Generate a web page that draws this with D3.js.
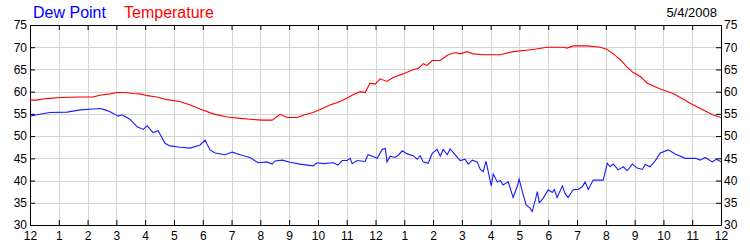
<!DOCTYPE html>
<html>
<head>
<meta charset="utf-8">
<script src="https://cdn.jsdelivr.net/npm/d3@7"></script>
<style>
  body { margin: 0; background: #fff; }
  svg { display: block; }
  text { font-family: Arial, "Liberation Sans", sans-serif; }
</style>
</head>
<body>
<div id="chart"></div>
<script>
// hour of day (0-24) and reading
var tempHours = [0, 0.24, 0.49, 0.69, 1.04, 1.74, 2.19, 2.43, 2.78, 3.02, 3.3, 3.58, 3.82, 4.07, 4.41, 4.76,
    5.21, 5.56, 5.91, 6.36, 6.85, 7.3, 7.64, 8.06, 8.41, 8.69, 8.93, 9.28, 9.49, 9.83, 10.08, 10.42, 10.77,
    11.01, 11.22, 11.47, 11.64, 11.81, 11.99, 12.16, 12.4, 12.61, 12.96, 13.31, 13.48, 13.66, 13.79, 13.97,
    14.25, 14.49, 14.77, 14.94, 15.18, 15.39, 15.74, 16.09, 16.33, 16.78, 17.48, 17.96, 18.52, 18.66, 18.87,
    19.35, 19.81, 20.05, 20.26, 20.5, 20.74, 20.95, 21.2, 21.44, 21.89, 22.34, 22.69, 23.04, 23.38, 23.73, 24];
var tempValues = [58.1, 58.1, 58.4, 58.5, 58.7, 58.8, 58.8, 59.2, 59.5, 59.8, 59.8, 59.6, 59.5, 59.1, 58.8, 58.2,
    57.8, 57.0, 56.1, 55.0, 54.3, 54.0, 53.8, 53.6, 53.6, 54.9, 54.2, 54.2, 54.7, 55.3, 56.0, 57.0, 57.8,
    58.6, 59.3, 60.0, 59.8, 61.9, 61.7, 62.9, 62.3, 63.2, 64.0, 65.0, 65.2, 66.3, 65.9, 67.0,
    67.0, 68.2, 68.8, 68.5, 69.0, 68.5, 68.3, 68.3, 68.3, 69.0, 69.5, 70.0, 70.0, 69.8, 70.3,
    70.3, 70.0, 69.5, 68.5, 67.2, 65.5, 64.3, 63.4, 61.9, 60.6, 59.6, 58.3, 57.0, 55.9, 54.75, 54.2];

var dewHours = [0, 0.24, 0.69, 1.29, 1.74, 2.19, 2.43, 2.61, 2.78, 3.06, 3.2, 3.47, 3.72, 3.93, 4.07, 4.27, 4.45,
    4.69, 4.86, 5.21, 5.56, 5.91, 6.08, 6.25, 6.43, 6.78, 7.02, 7.3, 7.64, 7.92, 8.23, 8.41, 8.51, 8.76, 9.03,
    9.38, 9.83, 9.97, 10.18, 10.53, 10.7, 10.84, 11.01, 11.12, 11.19, 11.36, 11.64, 11.74, 11.92, 12.06, 12.23,
    12.34, 12.4, 12.51, 12.68, 12.79, 12.93, 13.1, 13.31, 13.45, 13.55, 13.66, 13.83, 13.97, 14.14, 14.25,
    14.35, 14.49, 14.59, 14.77, 14.94, 15.11, 15.22, 15.36, 15.53, 15.64, 15.74, 15.84, 16.02, 16.09, 16.23,
    16.33, 16.43, 16.61, 16.78, 16.92, 16.99, 17.13, 17.23, 17.37, 17.44, 17.55, 17.62, 17.69, 17.82, 18.0,
    18.14, 18.21, 18.31, 18.49, 18.59, 18.69, 18.87, 19.04, 19.18, 19.28, 19.39, 19.56, 19.91, 20.05, 20.15,
    20.26, 20.43, 20.61, 20.74, 20.92, 21.09, 21.27, 21.37, 21.54, 21.72, 21.89, 22.17, 22.41, 22.76, 23.11,
    23.28, 23.45, 23.7, 23.84, 24];
var dewValues = [54.5, 54.8, 55.3, 55.4, 55.9, 56.1, 56.2, 55.9, 55.5, 54.5, 54.8, 53.8, 52.1, 51.5, 52.3, 50.8, 51.2,
    48.4, 47.8, 47.5, 47.3, 48.0, 49.1, 46.9, 46.2, 45.8, 46.4, 45.8, 45.2, 44.0, 44.2, 43.7, 44.4, 44.6, 44.1,
    43.7, 43.3, 44.0, 43.8, 44.0, 43.5, 44.5, 44.5, 45.0, 43.8, 44.5, 44.3, 45.8, 45.4, 45.0, 47.0,
    47.2, 44.2, 45.5, 45.2, 45.7, 46.7, 46.0, 45.6, 44.8, 45.6, 44.2, 43.9, 46.1, 47.0, 45.5,
    47.0, 45.8, 47.1, 45.8, 44.5, 44.8, 43.7, 44.6, 44.2, 42.5, 42.0, 44.3, 38.8, 41.5, 39.7,
    40.0, 39.0, 39.7, 36.2, 38.6, 40.3, 36.8, 34.5, 33.8, 33.0, 35.6, 37.5, 35.0, 36.0, 37.9,
    37.3, 38.0, 36.2, 38.8, 37.0, 36.2, 38.0, 38.0, 38.6, 39.7, 38.0, 40.1, 40.1, 43.9, 43.1,
    43.7, 42.4, 43.1, 42.2, 43.7, 42.8, 42.5, 43.6, 43.1, 44.5, 46.2, 46.9, 46.0, 45.0, 45.0,
    44.6, 45.2, 44.2, 44.8, 44.2];

var hourLabels = ["12", "1", "2", "3", "4", "5", "6", "7", "8", "9", "10", "11",
    "12", "1", "2", "3", "4", "5", "6", "7", "8", "9", "10", "11", "12"];
var yTicks = [30, 35, 40, 45, 50, 55, 60, 65, 70, 75];
var dateLabel = "5/4/2008";

var W = 750, H = 250;
var plotLeft = 30, plotRight = 721, plotTop = 25, plotBottom = 225;

var svg = d3.select("#chart").append("svg")
    .attr("width", W)
    .attr("height", H);

var x = d3.scaleLinear().domain([0, 24]).range([plotLeft, plotRight]);
var y = d3.scaleLinear().domain([30, 75]).range([plotBottom, plotTop]);

// grid
svg.append("g").selectAll("line")
    .data(d3.range(1, 24))
    .enter().append("line")
    .attr("x1", d => Math.round(x(d)) + 0.5)
    .attr("x2", d => Math.round(x(d)) + 0.5)
    .attr("y1", plotTop)
    .attr("y2", plotBottom)
    .attr("stroke", "#d3d3d3");

svg.append("g").selectAll("line")
    .data(yTicks.slice(1, -1))
    .enter().append("line")
    .attr("x1", plotLeft)
    .attr("x2", plotRight)
    .attr("y1", d => Math.round(y(d)) + 0.5)
    .attr("y2", d => Math.round(y(d)) + 0.5)
    .attr("stroke", "#d3d3d3");

// axes, ticks pointing into the plot
var xAxis = d3.axisBottom(x)
    .tickValues(d3.range(0, 25))
    .tickFormat((d, i) => hourLabels[i])
    .tickSizeInner(-5).tickSizeOuter(0).tickPadding(6);
svg.append("g")
    .attr("transform", "translate(0," + plotBottom + ")")
    .call(xAxis);

svg.append("g")
    .attr("transform", "translate(0," + plotTop + ")")
    .call(d3.axisTop(x).tickValues(d3.range(0, 25)).tickFormat("").tickSizeInner(-5).tickSizeOuter(0));

svg.append("g")
    .attr("transform", "translate(" + plotLeft + ",0)")
    .call(d3.axisLeft(y).tickValues(yTicks).tickSizeInner(-5).tickSizeOuter(0).tickPadding(3));

svg.append("g")
    .attr("transform", "translate(" + plotRight + ",0)")
    .call(d3.axisRight(y).tickValues(yTicks).tickSizeInner(-5).tickSizeOuter(0).tickPadding(3));

svg.selectAll(".tick text")
    .attr("fill", "#000")
    .style("font-size", "12px")
    .style("font-family", "Arial, 'Liberation Sans', sans-serif");
svg.selectAll(".domain, .tick line").attr("stroke", "#000");

// lines
var tempData = tempHours.map((h, i) => ({ h: h, v: tempValues[i] }));
var dewData = dewHours.map((h, i) => ({ h: h, v: dewValues[i] }));

var line = d3.line()
    .x(d => x(d.h))
    .y(d => y(d.v));

svg.append("path")
    .datum(tempData)
    .attr("fill", "none")
    .attr("stroke", "#ff0000")
    .attr("stroke-width", 1.1)
    .attr("d", line);

svg.append("path")
    .datum(dewData)
    .attr("fill", "none")
    .attr("stroke", "#1a1aff")
    .attr("stroke-width", 1.1)
    .attr("d", line);

// legend and date
svg.append("text")
    .attr("x", 33).attr("y", 18)
    .attr("fill", "#0000ff")
    .style("font-size", "16px")
    .text("Dew Point");

svg.append("text")
    .attr("x", 124).attr("y", 18)
    .attr("fill", "#ff0000")
    .style("font-size", "16px")
    .text("Temperature");

svg.append("text")
    .attr("x", 717).attr("y", 17)
    .attr("text-anchor", "end")
    .attr("fill", "#000")
    .style("font-size", "13px")
    .text(dateLabel);
</script>
</body>
</html>
